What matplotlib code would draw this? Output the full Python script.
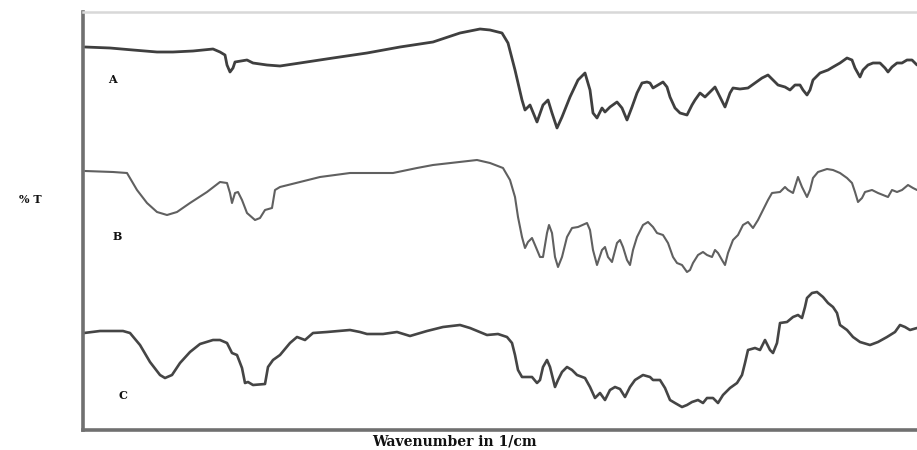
import matplotlib
matplotlib.use("Agg")
import matplotlib.pyplot as plt

# ---- data (x: position along wavenumber axis, y: %T trace level, screen units) ----
a_x = [85, 110, 133, 157, 173, 193, 213, 220, 225, 227, 230, 233, 235, 247, 253, 267, 280, 300, 333, 367, 400,
       433, 460, 480, 490, 502, 508, 515, 522, 525, 530, 537, 543, 548, 552, 557, 562, 570, 578, 585, 590, 593,
       597, 602, 605, 610, 617, 622, 627, 632, 637, 642, 647, 650, 653, 658, 663, 667, 670, 675, 680, 687, 692,
       695, 700, 705, 710, 715, 720, 725, 730, 733, 740, 748, 755, 762, 768, 773, 778, 785, 790, 795, 800, 803,
       807, 810, 813, 820, 828, 833, 840, 847, 852, 855, 860, 863, 868, 873, 880, 885, 888, 892, 897, 902, 907,
       912, 917]
a_y = [47, 48, 50, 52, 52, 51, 49, 52, 55, 65, 72, 68, 62, 60, 63, 65, 66, 63, 58, 53, 47,
       42, 33, 29, 30, 33, 43, 70, 100, 110, 105, 122, 105, 100, 113, 128, 117, 97, 80, 73, 90, 113,
       118, 108, 112, 107, 102, 108, 120, 107, 93, 83, 82, 83, 88, 85, 82, 87, 97, 108, 113, 115, 105,
       100, 93, 97, 92, 87, 97, 107, 93, 88, 89, 88, 83, 78, 75, 80, 85, 87, 90, 85, 85, 90,
       95, 90, 80, 73, 70, 67, 63, 58, 60, 68, 77, 70, 65, 63, 63, 68, 72, 67, 63, 63, 60,
       60, 65]

b_x = [85, 113, 127, 137, 147, 157, 167, 177, 190, 207, 220, 227, 230, 232, 235, 238, 242, 247, 255, 260,
       265, 272, 275, 280, 300, 320, 350, 393, 417, 433, 460, 477, 490, 503, 510, 515, 518, 522, 525, 528,
       532, 535, 540, 543, 547, 549, 552, 555, 558, 562, 567, 572, 578, 587, 590, 593, 597, 602, 605, 608,
       612, 617, 620, 623, 627, 630, 633, 637, 643, 648, 653, 657, 663, 668, 673, 677, 682, 687, 690, 693,
       698, 703, 707, 712, 715, 718, 722, 725, 728, 733, 738, 743, 748, 753, 758, 763, 768, 772, 780, 785,
       788, 793, 797, 798, 802, 807, 810, 813, 818, 827, 833, 840, 847, 852, 855, 858, 862, 865, 872, 878,
       883, 888, 892, 897, 902, 908, 913, 917]
b_y = [171, 172, 173, 190, 203, 212, 215, 212, 203, 192, 182, 183, 193, 203, 193, 192, 200, 213, 220, 218,
       210, 208, 190, 187, 182, 177, 173, 173, 168, 165, 162, 160, 163, 168, 180, 197, 217, 237, 248, 242,
       238, 245, 257, 257, 233, 225, 233, 257, 267, 257, 237, 228, 227, 223, 230, 250, 265, 250, 247, 257,
       262, 243, 240, 247, 260, 265, 250, 237, 225, 222, 227, 233, 235, 243, 257, 263, 265, 272, 270, 263,
       255, 252, 255, 257, 250, 253, 260, 265, 253, 240, 235, 225, 222, 228, 220, 210, 200, 193, 192, 187,
       190, 193, 180, 177, 187, 197, 190, 178, 172, 169, 170, 173, 178, 183, 192, 202, 198, 192, 190, 193,
       195, 197, 190, 192, 190, 185, 188, 190]

c_x = [84, 100, 123, 130, 140, 150, 160, 165, 172, 180, 190, 200, 213, 220, 227, 232, 237, 242, 245, 248,
       253, 265, 268, 273, 280, 290, 297, 305, 313, 327, 350, 360, 367, 383, 397, 410, 427, 443, 460, 470,
       487, 498, 507, 512, 515, 518, 522, 527, 532, 537, 540, 543, 547, 550, 555, 558, 562, 567, 572, 577,
       585, 590, 595, 600, 605, 610, 615, 620, 625, 630, 635, 643, 650, 653, 660, 665, 670, 675, 682, 687,
       692, 698, 703, 707, 713, 718, 723, 730, 737, 742, 745, 748, 755, 760, 765, 770, 773, 777, 780, 787,
       793, 798, 802, 805, 807, 812, 817, 823, 828, 833, 837, 840, 847, 853, 860, 870, 878, 887, 895, 900,
       905, 910, 917]
c_y = [333, 331, 331, 333, 345, 362, 375, 378, 375, 363, 352, 344, 340, 340, 343, 353, 355, 368, 383, 382,
       385, 384, 367, 360, 355, 343, 337, 340, 333, 332, 330, 332, 334, 334, 332, 336, 331, 327, 325, 328,
       335, 334, 337, 343, 355, 370, 377, 377, 377, 383, 380, 367, 360, 367, 387, 380, 372, 367, 370, 375,
       378, 387, 398, 393, 400, 390, 387, 389, 397, 387, 380, 375, 377, 380, 380, 388, 400, 403, 407, 405,
       402, 400, 403, 398, 398, 403, 395, 388, 383, 375, 363, 350, 348, 350, 340, 350, 353, 343, 323, 322,
       317, 315, 318, 307, 298, 293, 292, 297, 303, 307, 313, 325, 330, 337, 342, 345, 342, 337, 332, 325,
       327, 330, 328]

series = [("A", a_x, a_y, 2.0, "#3f3f3f"),
          ("B", b_x, b_y, 1.5, "#606060"),
          ("C", c_x, c_y, 1.9, "#454545")]
labels = {"A": (112, 79), "B": (117, 236), "C": (123, 395)}

serif = ["DejaVu Serif", "Liberation Serif"]

fig = plt.figure(figsize=(9.17, 4.5), dpi=100)
ax = fig.add_axes([83 / 917, 1 - 430 / 450, 1 - 83 / 917, (430 - 12) / 450])
ax.set_xlim(83, 917)
ax.set_ylim(430, 12)

for name, xs, ys, lw, col in series:
    ax.plot(xs, ys, color=col, lw=lw, solid_joinstyle="round", solid_capstyle="round")
    lx, ly = labels[name]
    ax.text(lx, ly, name, ha="center", va="center", fontsize=8, fontweight="bold",
            family=serif, color="#111111")

ax.text(30, 199, "% T", ha="center", va="center", fontsize=8, fontweight="bold",
        family=serif, color="#111111", clip_on=False)
ax.text(454, 441, "Wavenumber in 1/cm", ha="center", va="center", fontsize=10, fontweight="bold",
        family=serif, color="#111111", clip_on=False)

ax.set_xticks([])
ax.set_yticks([])
for s in ("left", "bottom"):
    ax.spines[s].set_color("#707070")
    ax.spines[s].set_linewidth(2.6)
ax.spines["top"].set_color("#d8d8d8")
ax.spines["top"].set_linewidth(1.8)
ax.spines["right"].set_visible(False)

fig.savefig("out.png", dpi=100)
